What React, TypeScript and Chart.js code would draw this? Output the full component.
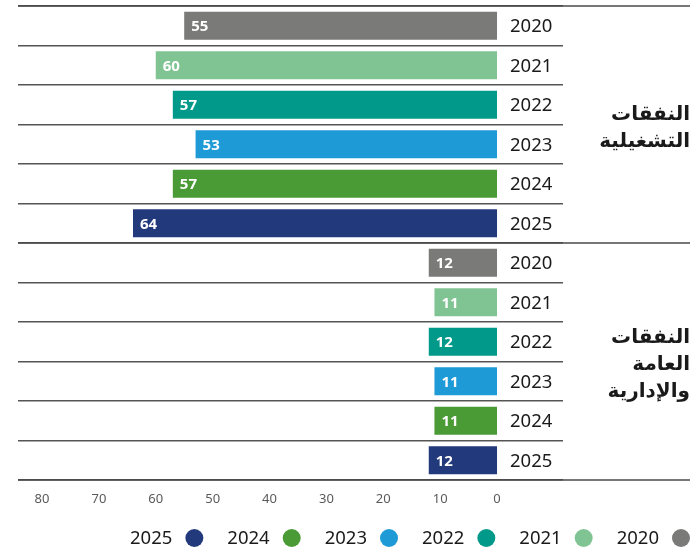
import React, { useEffect, useRef } from 'react';
import { Chart, registerables } from 'chart.js';

Chart.register(...registerables);

const years = ['2020', '2021', '2022', '2023', '2024', '2025'];
const operatingValues = [55, 60, 57, 53, 57, 64];
const adminValues = [12, 11, 12, 11, 11, 12];
const groupLabels = [
  ['النفقات', 'التشغيلية'],
  ['النفقات', 'العامة', 'والإدارية'],
];
const yearColors = ['#7a7a78', '#80c493', '#00998a', '#1e9ad6', '#4a9a35', '#22397c'];
const xTickValues = [0, 10, 20, 30, 40, 50, 60, 70, 80];

const FONT = "'Noto Sans', 'DejaVu Sans', sans-serif";

const rowLabels = [...years, ...years];
const groupValues = [operatingValues, adminValues];

const overlayPlugin = {
  id: 'overlay',
  afterDatasetsDraw(chart: any) {
    const ctx = chart.ctx;
    const xs = chart.scales.x;
    const ys = chart.scales.y;
    const area = chart.chartArea;
    const rowH = ys.getPixelForValue(1) - ys.getPixelForValue(0);
    ctx.save();
    // full-width separators
    ctx.strokeStyle = '#4a4a4a';
    ctx.lineWidth = 1.6;
    [0, years.length, rowLabels.length].forEach((b) => {
      const y = ys.getPixelForValue(b) - rowH / 2;
      ctx.beginPath();
      ctx.moveTo(area.left, y);
      ctx.lineTo(chart.width - 4, y);
      ctx.stroke();
    });
    // value labels
    ctx.fillStyle = '#ffffff';
    ctx.font = `bold 15px ${FONT}`;
    ctx.textAlign = 'left';
    ctx.textBaseline = 'middle';
    chart.data.datasets.forEach((ds: any, di: number) => {
      const meta = chart.getDatasetMeta(di);
      meta.data.forEach((el: any, i: number) => {
        const v = ds.data[i];
        if (v === null || v === undefined) return;
        ctx.fillText(String(v), el.x + 7, el.y + 1);
      });
    });
    // year labels
    const x0 = xs.getPixelForValue(0);
    ctx.fillStyle = '#1a1a1a';
    ctx.font = `18.5px ${FONT}`;
    rowLabels.forEach((lab, r) => {
      ctx.fillText(lab, x0 + 13, ys.getPixelForValue(r) + 1);
    });
    // group labels
    ctx.font = `bold 20px ${FONT}`;
    ctx.textAlign = 'right';
    ctx.fillStyle = '#1a1a1a';
    groupLabels.forEach((lines, g) => {
      const c = (ys.getPixelForValue(g * years.length) + ys.getPixelForValue(g * years.length + years.length - 1)) / 2 + 3;
      const lh = 27;
      lines.forEach((ln, k) => {
        ctx.fillText(ln, chart.width - 4, c + (k - (lines.length - 1) / 2) * lh);
      });
    });
    // legend (right to left)
    ctx.font = `18.5px ${FONT}`;
    ctx.textBaseline = 'middle';
    let right = chart.width - 4;
    const ly = 538;
    const r = 9;
    chart.data.datasets.forEach((ds: any) => {
      const cx = right - r;
      ctx.fillStyle = ds.backgroundColor;
      ctx.beginPath();
      ctx.arc(cx, ly, r, 0, Math.PI * 2);
      ctx.fill();
      const tr = cx - r - 13;
      ctx.fillStyle = '#1a1a1a';
      ctx.textAlign = 'right';
      ctx.fillText(ds.label, tr, ly + 1);
      const w = ctx.measureText(ds.label).width;
      right = tr - w - 24;
    });
    ctx.restore();
  },
};

export default function App() {
  const ref = useRef<HTMLCanvasElement | null>(null);
  useEffect(() => {
    document.body.style.margin = '0';
    if (!ref.current) return;
    const datasets = years.map((y, i) => ({
      label: y,
      data: rowLabels.map((_, r) => (r % years.length === i ? groupValues[Math.floor(r / years.length)][i] : null)),
      backgroundColor: yearColors[i],
      borderWidth: 0,
      barPercentage: 0.71,
      categoryPercentage: 1,
      skipNull: true,
    }));
    const chart = new Chart(ref.current, {
      type: 'bar',
      data: { labels: rowLabels, datasets },
      options: {
        indexAxis: 'y',
        responsive: false,
        animation: false,
        devicePixelRatio: 1,
        layout: { padding: { top: 6, left: 18, right: 131, bottom: 0 } },
        plugins: { legend: { display: false }, tooltip: { enabled: false } },
        scales: {
          x: {
            type: 'linear',
            reverse: true,
            min: -11.6,
            max: 84.22,
            stacked: true,
            afterBuildTicks: (axis: any) => {
              axis.ticks = xTickValues.map((v) => ({ value: v }));
            },
            afterFit: (scale: any) => {
              scale.height = 76;
            },
            grid: { display: false, drawTicks: false },
            border: { display: false },
            ticks: {
              color: '#5a5a5a',
              font: { size: 13, family: FONT },
              padding: 11,
              maxRotation: 0,
              autoSkip: false,
            },
          },
          y: {
            type: 'category',
            stacked: true,
            afterFit: (scale: any) => {
              scale.width = 0;
            },
            grid: { offset: true, drawTicks: false, color: '#555555', lineWidth: 1.4 },
            border: { display: false },
            ticks: { display: false },
          },
        },
      },
      plugins: [overlayPlugin],
    });
    return () => chart.destroy();
  }, []);
  return (
    <div style={{ width: 694, height: 556 }}>
      <canvas ref={ref} width={694} height={556} />
    </div>
  );
}
